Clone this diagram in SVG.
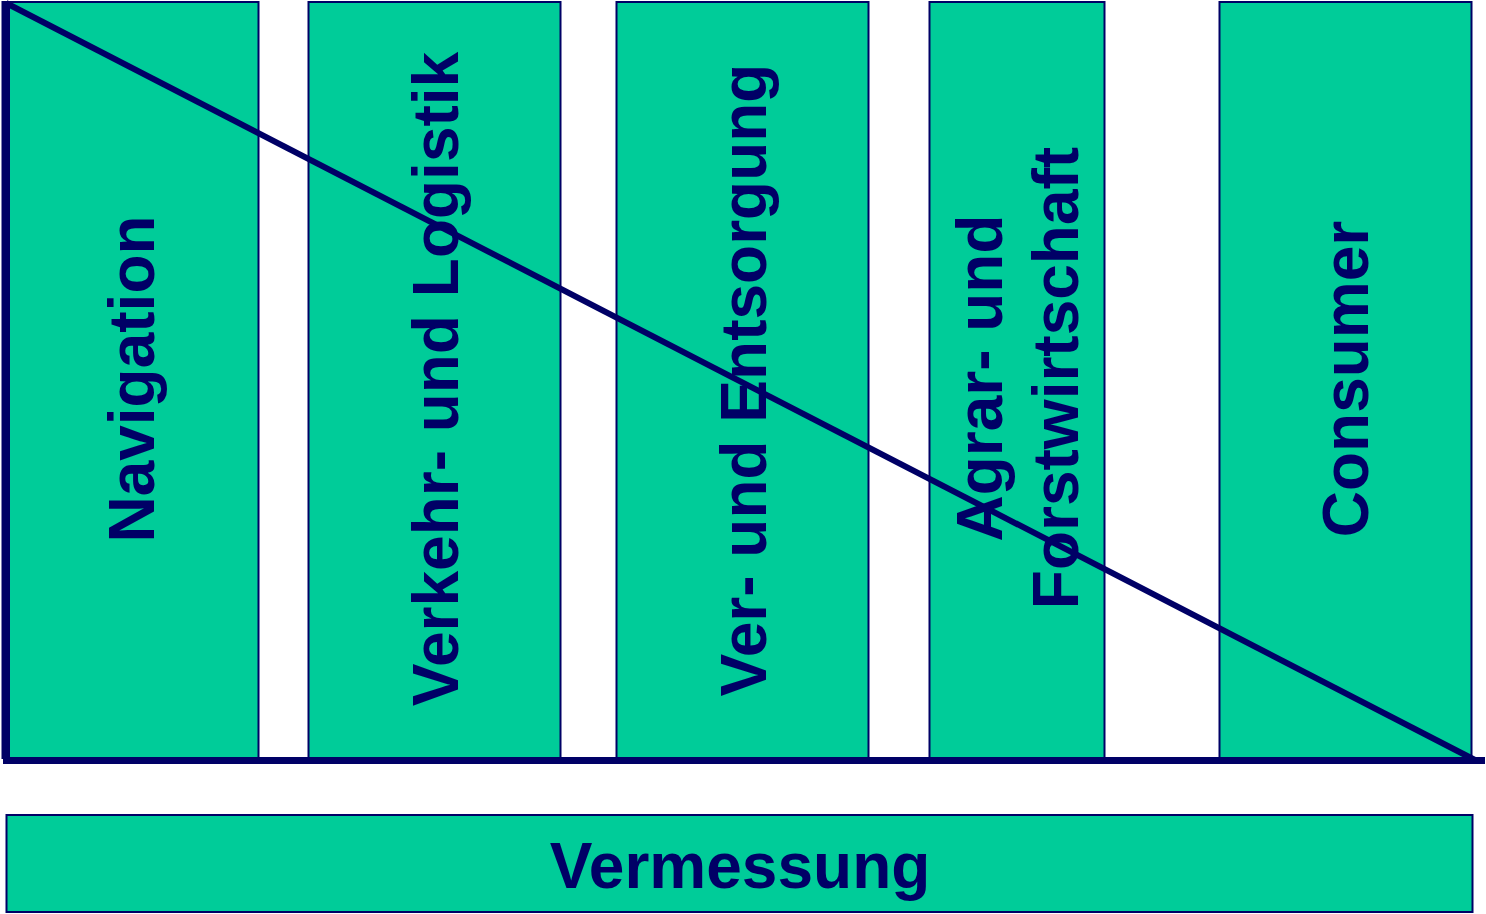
<svg xmlns="http://www.w3.org/2000/svg" width="1486" height="914" viewBox="0 0 1486 914">
<style>
.box{fill:#00CC99;stroke:#000066;stroke-width:2}
.lbl{font-family:"Liberation Sans",Arial,sans-serif;font-weight:bold;font-size:64px;fill:#000066;text-anchor:middle}
.ax{stroke:#000066;fill:none}
</style>
<rect width="1486" height="914" fill="#ffffff"/>
<g id="navigation"><rect class="box" x="2.5" y="2" width="256" height="756"/><text class="lbl" transform="translate(154,379) rotate(-90)">Navigation</text></g>
<g id="verkehr"><rect class="box" x="308.5" y="2" width="252" height="756"/><text class="lbl" transform="translate(458,379) rotate(-90)">Verkehr- und Logistik</text></g>
<g id="ver-entsorgung"><rect class="box" x="616.5" y="2" width="252" height="756"/><text class="lbl" transform="translate(766,380) rotate(-90)">Ver- und Entsorgung</text></g>
<g id="agrar"><rect class="box" x="929.5" y="2" width="175" height="756"/><text class="lbl" transform="translate(1002,378) rotate(-90)">Agrar- und</text><text class="lbl" transform="translate(1078,378) rotate(-90)">Forstwirtschaft</text></g>
<g id="consumer"><rect class="box" x="1219.5" y="2" width="252" height="756"/><text class="lbl" transform="translate(1368,379) rotate(-90)">Consumer</text></g>
<g id="vermessung"><rect class="box" x="6.5" y="815" width="1466" height="97"/><text class="lbl" x="740" y="888">Vermessung</text></g>
<g id="connectors">
<path class="ax" d="M6.5 2 V760.5 H1485" stroke-width="7"/>
<line class="ax" x1="6" y1="3" x2="1475" y2="760" stroke-width="6"/>
</g>
</svg>
